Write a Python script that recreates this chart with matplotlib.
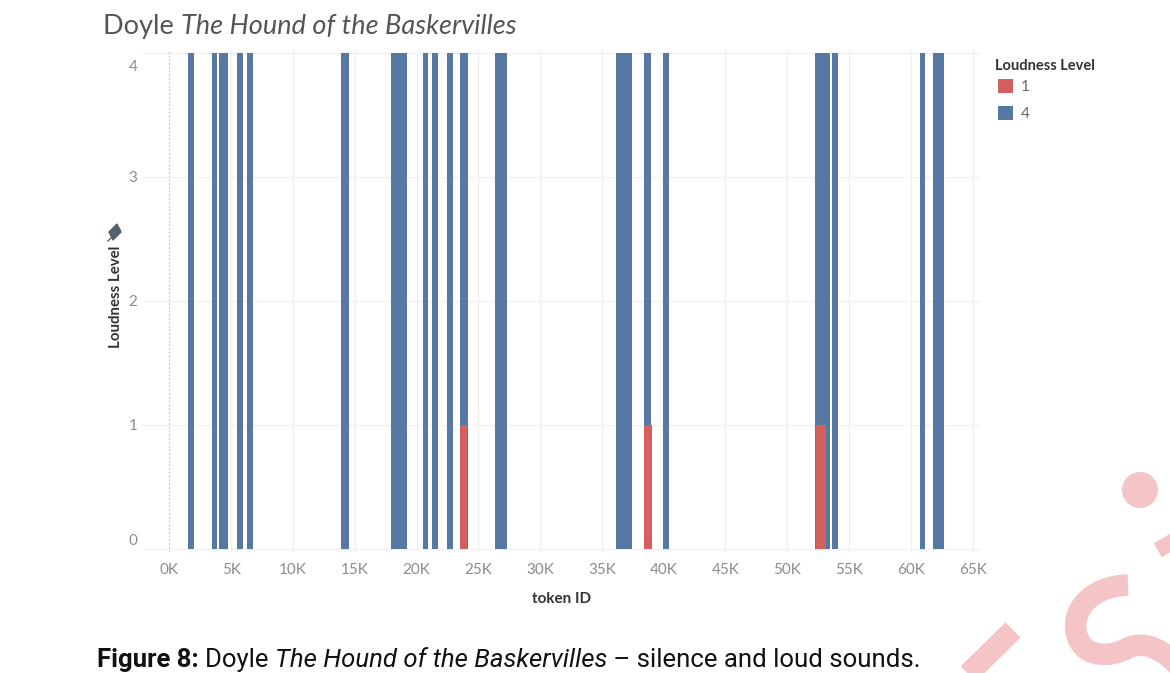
import matplotlib
matplotlib.use("Agg")
import matplotlib.pyplot as plt
from matplotlib.patches import Circle, Patch, Polygon
from matplotlib.path import Path
from matplotlib.patches import PathPatch
from matplotlib.transforms import ScaledTranslation

# ---------------- data (token ID in thousands) ----------------
loud_token_k = [1.76, 3.64, 4.39, 5.73, 6.53, 14.17, 18.59, 20.71, 21.48, 22.72,
                23.85, 26.84, 36.81, 38.70, 40.19, 52.85, 53.90, 60.95, 62.23]
loud_span_k = [0.49, 0.45, 0.73, 0.49, 0.46, 0.65, 1.35, 0.45, 0.53, 0.49,
               0.59, 0.95, 1.26, 0.51, 0.51, 1.19, 0.49, 0.46, 0.87]
loud_level = [4] * len(loud_token_k)

silence_token_k = [23.81, 38.74, 52.71]
silence_span_k = [0.51, 0.59, 0.81]
silence_level = [1, 1, 1]

x_ticks_k = [0, 5, 10, 15, 20, 25, 30, 35, 40, 45, 50, 55, 60, 65]
x_tick_labels = ["0K", "5K", "10K", "15K", "20K", "25K", "30K", "35K", "40K",
                 "45K", "50K", "55K", "60K", "65K"]
y_ticks = [0, 1, 2, 3, 4]
legend_labels = ["1", "4"]

BLUE = "#5878a4"
RED = "#d35f5e"
PINK = "#f4c4c6"
W, H = 1170, 673

fig = plt.figure(figsize=(W / 100, H / 100), dpi=100)
renderer = fig.canvas.get_renderer()


def fpos(x, y):
    return x / W, 1 - y / H


ax = fig.add_axes([143 / W, 1 - 552 / H, (980 - 143) / W, (552 - 50) / H])
ax.bar(loud_token_k, loud_level, width=loud_span_k, color=BLUE, zorder=3, linewidth=0)
ax.bar(silence_token_k, silence_level, width=silence_span_k, color=RED, zorder=4, linewidth=0)

ax.set_xlim(-2.14, 65.6)
ax.set_ylim(-0.024, 4.022)
ax.set_xticks(x_ticks_k)
ax.set_xticklabels(x_tick_labels)
ax.set_yticks(y_ticks)
ax.set_yticklabels([str(v) for v in y_ticks])
for s in ax.spines.values():
    s.set_visible(False)
ax.tick_params(length=0, labelsize=11, labelcolor="#8c8c8c")
ax.tick_params(axis="x", pad=8)
ax.tick_params(axis="y", pad=4)
for lab in ax.get_xticklabels() + ax.get_yticklabels():
    lab.set_family("Lato")
ylabs = ax.get_yticklabels()
ylabs[0].set_va("bottom")
ylabs[0].set_transform(ylabs[0].get_transform() + ScaledTranslation(0, 0.01, fig.dpi_scale_trans))
ylabs[-1].set_va("top")
ylabs[-1].set_transform(ylabs[-1].get_transform() + ScaledTranslation(0, -0.07, fig.dpi_scale_trans))

for v in y_ticks:
    ax.axhline(v, color="#f0f0f0", lw=1.0, zorder=1)
for v in x_ticks_k[1:]:
    ax.axvline(v, color="#f0f0f0", lw=1.0, zorder=1)
ax.axvline(0, color="#c8c8c8", lw=0.9, ls=(0, (1.5, 1.5)), zorder=2)

ax.set_xlabel("token ID", fontsize=11, color="#333333", family="Lato",
              fontweight="bold", labelpad=11)
fig.text(*fpos(116, 297), "Loudness Level", rotation=90, ha="center", va="center",
         fontsize=10.8, color="#333333", family="Lato", fontweight="bold")

# legend
fig.text(*fpos(995, 66), "Loudness Level", ha="left", va="center", fontsize=10.5,
         family="Lato", fontweight="bold", color="#333333")
handles = [Patch(facecolor=RED, edgecolor="none"), Patch(facecolor=BLUE, edgecolor="none")]
leg = fig.legend(handles, legend_labels, loc="upper left",
                 bbox_to_anchor=fpos(998, 79), frameon=False,
                 handlelength=1.0, handleheight=1.0, handletextpad=0.5,
                 labelspacing=0.78, borderpad=0, borderaxespad=0,
                 prop={"family": "Lato", "size": 11})
for t in leg.get_texts():
    t.set_color("#666666")


def place_run(pieces, x0, ybase, width, size, color):
    texts = [fig.text(0, 0, s, fontsize=size, color=color, va="baseline", ha="left", **kw)
             for s, kw in pieces]
    w = sum(t.get_window_extent(renderer).width for t in texts)
    k = width / w
    x = x0
    for t in texts:
        t.set_fontsize(size * k)
        t.set_position(fpos(x, ybase))
        x += t.get_window_extent(renderer).width
    return texts


place_run([("Doyle ", {"family": "Lato"}),
           ("The Hound of the Baskervilles", {"family": "Lato", "style": "italic"})],
          103, 34, 412, 16, "#555555")

place_run([("Figure 8: ", {"family": "Roboto", "fontweight": "bold"}),
           ("Doyle ", {"family": "Roboto"}),
           ("The Hound of the Baskervilles", {"family": "Roboto", "style": "italic"}),
           (" \u2013 silence and loud sounds.", {"family": "Roboto"})],
          97, 667, 825, 15, "#111111")

# overlay for decorative elements (pin icon, watermark)
ov = fig.add_axes([0, 0, 1, 1], zorder=-1)
ov.set_xlim(0, W)
ov.set_ylim(H, 0)
ov.axis("off")
ov.patch.set_visible(False)

# pin icon above y label
ov.add_patch(Polygon([(109, 232), (117, 224), (121, 232), (113, 240)],
                     closed=True, color="#55606e"))
ov.plot([113, 120], [236, 229], color="#55606e", lw=2.5, solid_capstyle="butt")
ov.plot([108, 112], [241, 237], color="#55606e", lw=1.0)

# watermark
lw = 15.5
ov.add_patch(Circle((1140, 490), 18, color=PINK, lw=0))
ov.plot([1163, 1185], [538, 576], color=PINK, lw=lw, solid_capstyle="butt")
ov.plot([960, 1013], [682, 630], color=PINK, lw=lw, solid_capstyle="butt")
verts = [(1128, 585),
         (1090, 586), (1070, 612), (1077, 635),
         (1083, 658), (1110, 658), (1128, 648),
         (1145, 640), (1165, 650), (1182, 670)]
codes = [Path.MOVETO] + [Path.CURVE4] * 9
ov.add_patch(PathPatch(Path(verts, codes), facecolor="none", edgecolor=PINK, lw=lw,
                       capstyle="butt"))

fig.savefig("out.png", dpi=100)
